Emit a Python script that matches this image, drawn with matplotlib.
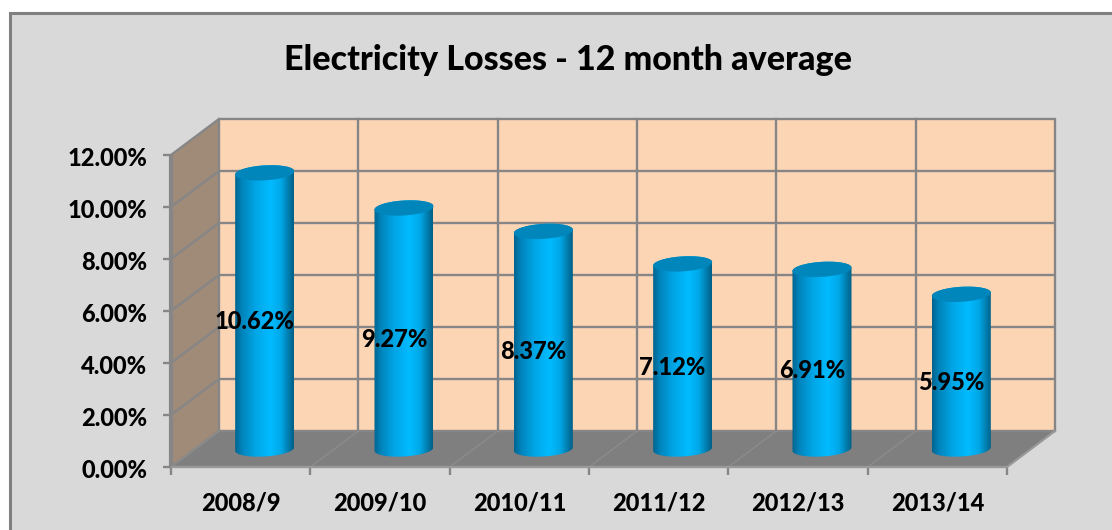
import numpy as np
import matplotlib
matplotlib.use("Agg")
import matplotlib.pyplot as plt
from matplotlib.patches import Polygon, PathPatch
from matplotlib.path import Path
from matplotlib.colors import LinearSegmentedColormap

categories = ["2008/9", "2009/10", "2010/11", "2011/12", "2012/13", "2013/14"]
losses = [10.62, 9.27, 8.37, 7.12, 6.91, 5.95]
y_ticks = [0, 2, 4, 6, 8, 10, 12]

# axis scale, pixels per unit
PX_X = 139.33
PX_Y = 26.0
DEPTH_X = 48 / PX_X
DEPTH_Y = 36 / PX_Y
GRID = "#868686"
FONT = "Lato"

plt.rcParams["font.family"] = [FONT, "DejaVu Sans"]
plt.rcParams["font.weight"] = "black"

fig = plt.figure(figsize=(11.12, 5.30), dpi=100, facecolor="white")
ax = fig.add_axes([0, 0, 1, 1])
ax.axis("off")

# chart area
n = len(categories)
top = y_ticks[-1]
x_px = lambda p: (p - 171) / PX_X
y_px = lambda p: (467 - p) / PX_Y
ax.add_patch(Polygon([(x_px(10), y_px(13)), (x_px(1130), y_px(13)), (x_px(1130), y_px(545)), (x_px(10), y_px(545))],
                     facecolor="#D9D9D9", edgecolor="#808080", lw=2.2, zorder=0))

# walls and floor
ax.add_patch(Polygon([(DEPTH_X, DEPTH_Y), (n + DEPTH_X, DEPTH_Y), (n + DEPTH_X, top + DEPTH_Y), (DEPTH_X, top + DEPTH_Y)],
                     facecolor="#FCD5B5", edgecolor="none", zorder=1))
ax.add_patch(Polygon([(0, 0), (DEPTH_X, DEPTH_Y), (DEPTH_X, top + DEPTH_Y), (0, top)],
                     facecolor="#A08B79", edgecolor="none", zorder=1))
ax.add_patch(Polygon([(0, 0), (n, 0), (n + DEPTH_X, DEPTH_Y), (DEPTH_X, DEPTH_Y)],
                     facecolor="#7F7F7F", edgecolor="none", zorder=1))

# grid
for v in y_ticks:
    ax.plot([0, DEPTH_X, n + DEPTH_X], [v, v + DEPTH_Y, v + DEPTH_Y], color=GRID, lw=1.7, zorder=2,
            solid_capstyle="butt")
    ax.plot([-8 / PX_X, 0], [v, v], color=GRID, lw=1.7, zorder=2, solid_capstyle="butt")
for i in range(n + 1):
    ax.plot([i + DEPTH_X, i + DEPTH_X], [DEPTH_Y, top + DEPTH_Y], color=GRID, lw=1.7, zorder=2)
    ax.plot([i, i + DEPTH_X], [0, DEPTH_Y], color="#8C8C8C", lw=1.0, zorder=2)
    ax.plot([i, i], [-8 / PX_Y, 0], color=GRID, lw=1.7, zorder=2, solid_capstyle="butt")
ax.plot([0, 0], [0, top], color=GRID, lw=3.0, zorder=2, solid_capstyle="butt")
ax.plot([0, n], [0, 0], color="#999999", lw=1.7, zorder=2, solid_capstyle="butt")
ax.plot([n, n + DEPTH_X], [0, DEPTH_Y], color="#999999", lw=1.5, zorder=2)

# cylinders
shade = LinearSegmentedColormap.from_list(
    "cyl", [(0, "#00658F"), (0.12, "#0084BC"), (0.35, "#00A6E6"), (0.6, "#00BBFF"),
            (0.78, "#00A8E8"), (0.92, "#0079A8"), (1, "#005F86")])
grad = np.linspace(0, 1, 256).reshape(1, -1)
half_w = 29.5 / PX_X
ell_h = 7.5 / PX_Y
tilt = np.deg2rad(6)


def rim(cx, cy, start, stop, steps=50):
    t = np.linspace(start, stop, steps)
    # skewed ellipse, right side sits higher than the left
    xs = cx + half_w * np.cos(t)
    ys = cy + ell_h * np.sin(t) + np.tan(tilt) * (xs - cx) * PX_X / PX_Y * 0.55
    return np.column_stack([xs, ys])


for i, val in enumerate(losses):
    cx = i + 0.5 + DEPTH_X / 2
    base = DEPTH_Y / 2
    head = val + DEPTH_Y / 2
    lower = rim(cx, base, np.pi, 2 * np.pi)
    upper = rim(cx, head, 0, np.pi)
    verts = np.vstack([lower, upper, lower[:1]])
    codes = [Path.MOVETO] + [Path.LINETO] * (len(verts) - 2) + [Path.CLOSEPOLY]
    body = PathPatch(Path(verts, codes), facecolor="none", edgecolor="none", zorder=3)
    ax.add_patch(body)
    im = ax.imshow(grad, extent=[cx - half_w, cx + half_w, base - 1, head + 1], cmap=shade,
                   aspect="auto", zorder=3, interpolation="bilinear")
    im.set_clip_path(body)
    ax.add_patch(Polygon(rim(cx, head, 0, 2 * np.pi, 80), facecolor="#0086BB", edgecolor="none", zorder=4))

ax.set_xlim(-171 / PX_X, (1112 - 171) / PX_X)
ax.set_ylim((467 - 530) / PX_Y, 467 / PX_Y)

# labels
for v in y_ticks:
    ax.text(-24 / PX_X, v - 3 / PX_Y, f"{v:.2f}%", ha="right", va="center", fontsize=17, color="black", zorder=6)
for i, name in enumerate(categories):
    ax.text(i + 0.5, -36 / PX_Y, name, ha="center", va="center", fontsize=17, color="black", zorder=6)
for i, val in enumerate(losses):
    ax.text(i + 0.5 + 14 / PX_X, val / 2 + 0.27, f"{val:.2f}%", ha="center", va="center",
            fontsize=17, color="black", zorder=6)
ax.text(x_px(568), y_px(60), "Electricity Losses - 12 month average", ha="center", va="center",
        fontsize=24.5, color="black", zorder=6)

fig.savefig("out.png", dpi=100, facecolor="white")
